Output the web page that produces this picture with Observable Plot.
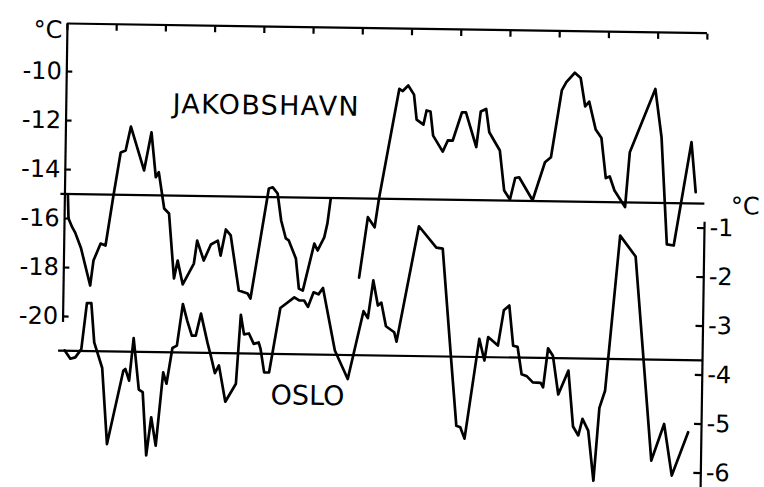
<!DOCTYPE html>
<html><head><meta charset="utf-8">
<script src="https://cdn.jsdelivr.net/npm/d3@7"></script>
<script src="https://cdn.jsdelivr.net/npm/@observablehq/plot@0.6"></script>
<style>html,body{margin:0;padding:0;background:#fff;} svg{display:block}</style>
</head><body><div id="chart"></div>
<script>
// Jakobshavn (left axis, °C) – two segments with a gap
const jakYears1 = [1870.3,1870.4,1870.8,1871.1,1871.7,1872.7,1873.0,1873.7,1874.2,1874.9,1875.6,1876.1,1876.6,1878.0,1878.7,1879.2,1879.5,1880.1,1880.6,1881.2,1881.55,1882.1,1883.2,1883.5,1884.2,1884.9,1885.6,1885.9,1886.4,1886.9,1887.8,1888.7,1889.0,1890.7,1891.1,1891.6,1892.0,1892.5,1892.8,1893.55,1893.9,1894.3,1895.4,1895.75,1896.4,1896.7,1897.0];
const jakTemps1 = [-15.02,-16.0,-16.36,-16.57,-17.18,-18.72,-17.70,-17.0,-17.08,-15.11,-13.27,-13.19,-12.21,-13.99,-12.43,-14.26,-14.05,-15.53,-15.73,-18.38,-17.65,-18.62,-17.76,-16.82,-17.63,-16.97,-16.81,-17.42,-16.35,-16.59,-18.83,-18.95,-19.15,-14.65,-14.60,-14.85,-15.95,-16.68,-16.76,-17.49,-18.72,-18.80,-16.87,-17.15,-16.61,-16.04,-15.02];
const jakYears2 = [1900.0,1900.8,1901.5,1901.9,1903.8,1904.15,1904.7,1905.3,1905.6,1906.3,1906.6,1907.0,1907.3,1908.3,1908.8,1909.3,1910.2,1910.6,1911.7,1912.1,1912.65,1913.0,1914.1,1914.6,1915.2,1915.7,1916.1,1917.5,1918.7,1919.3,1920.3,1920.75,1921.6,1922.2,1922.7,1923.1,1923.8,1924.4,1924.9,1925.3,1925.8,1926.9,1927.3,1929.8,1930.5,1931.2,1931.9,1933.55,1934.05];
const jakTemps2 = [-18.23,-15.76,-16.17,-14.99,-10.50,-10.59,-10.36,-10.73,-11.75,-11.95,-11.37,-11.41,-12.39,-13.04,-12.58,-12.58,-11.42,-11.42,-12.83,-11.38,-11.27,-12.22,-12.96,-14.59,-14.95,-14.07,-14.04,-14.97,-13.41,-13.20,-10.47,-10.13,-9.74,-9.95,-11.11,-10.91,-12.04,-12.39,-14.02,-13.95,-14.52,-15.19,-12.95,-10.35,-12.32,-16.69,-16.73,-12.50,-14.54];
// Oslo (right axis, °C)
const osloYears = [1870.2,1870.8,1871.3,1871.9,1872.4,1872.85,1873.2,1874.05,1874.65,1876.2,1876.4,1876.8,1877.2,1877.8,1878.2,1878.65,1879.1,1879.6,1880.25,1880.6,1881.15,1881.6,1882.15,1882.6,1883.1,1883.5,1884.0,1884.7,1885.05,1885.5,1885.9,1886.6,1887.65,1888.05,1888.4,1888.9,1889.4,1889.9,1890.1,1890.5,1891.0,1892.05,1893.45,1893.95,1894.45,1894.85,1895.4,1895.9,1896.35,1897.65,1899.0,1900.5,1900.95,1901.45,1901.95,1902.3,1902.8,1903.65,1903.9,1906.0,1907.8,1908.45,1909.45,1910.1,1910.5,1910.95,1912.3,1912.85,1913.2,1914.2,1914.75,1915.3,1915.75,1916.2,1916.65,1917.2,1917.8,1918.6,1918.85,1919.3,1919.8,1920.4,1921.4,1921.95,1922.5,1922.9,1923.5,1924.1,1924.6,1925.15,1926.45,1928.05,1929.95,1931.2,1932.05,1933.65];
const osloTemps = [-3.69,-3.86,-3.83,-3.66,-2.72,-2.72,-3.52,-4.04,-5.59,-4.09,-4.05,-4.29,-3.42,-4.47,-4.52,-5.81,-5.03,-5.61,-4.11,-4.34,-3.61,-3.56,-2.71,-3.04,-3.35,-3.35,-2.90,-3.49,-3.75,-4.11,-3.95,-4.69,-4.32,-2.91,-3.31,-3.29,-3.50,-3.47,-3.60,-4.08,-4.08,-2.76,-2.54,-2.60,-2.60,-2.73,-2.43,-2.47,-2.34,-3.61,-4.19,-2.80,-2.94,-2.17,-2.68,-2.62,-3.10,-3.22,-3.41,-1.05,-1.48,-1.50,-3.71,-5.11,-5.14,-5.37,-3.33,-3.77,-3.29,-3.46,-2.74,-2.64,-3.46,-3.48,-4.04,-4.08,-4.20,-4.21,-4.30,-3.50,-3.65,-4.44,-3.95,-5.09,-5.27,-4.93,-5.17,-6.19,-4.70,-4.35,-1.18,-1.60,-5.76,-5.01,-6.06,-5.17];
const jakMean = -15.0;
const osloMean = -3.7;
const xTicks = [1870,1875,1880,1885,1890,1895,1900,1905,1910,1915,1920,1925,1930,1935];
const leftTicks = [-10,-12,-14,-16,-18,-20];
const rightTicks = [-1,-2,-3,-4,-5,-6];

// Oslo °C drawn on the Jakobshavn scale: Oslo -1 aligns with -16, one Oslo degree = two Jakobshavn degrees
const toLeft = o => 2 * o - 14;
const fromLeft = v => (v + 14) / 2;

const jak1 = jakYears1.map((year, i) => ({year, temp: jakTemps1[i]}));
const jak2 = jakYears2.map((year, i) => ({year, temp: jakTemps2[i]}));
const oslo = osloYears.map((year, i) => ({year, temp: osloTemps[i]}));

const yTop = -8.04, yBottom = -26.98;
const sw = 2.2;
const lw = 2.7;

const chart = Plot.plot({
  width: 764, height: 487,
  marginTop: 23, marginBottom: 0, marginLeft: 67, marginRight: 57,
  x: {domain: [1870, 1935], axis: null},
  y: {domain: [yBottom, yTop], axis: null},
  style: {fontFamily: "DejaVu Sans", fontSize: "24px", color: "black", background: "white"},
  marks: [
    // frame pieces
    Plot.ruleY([yTop], {strokeWidth: sw}),
    Plot.ruleX([1870], {y1: yTop, y2: -20.25, strokeWidth: sw}),
    Plot.ruleX([1935], {y1: toLeft(-0.88), y2: yBottom, strokeWidth: sw}),
    // inward ticks
    Plot.axisX(xTicks, {anchor: "top", tickSize: 6, dy: 6, tickFormat: () => "", label: null, strokeWidth: sw}),
    Plot.axisY(leftTicks, {anchor: "left", tickSize: 6, dx: 6, tickFormat: () => "", label: null, strokeWidth: sw}),
    Plot.axisY(rightTicks.map(toLeft), {anchor: "right", tickSize: 8, dx: -8, tickFormat: () => "", label: null, strokeWidth: sw}),
    // tick labels
    Plot.axisY(leftTicks, {anchor: "left", tickSize: 0, tickPadding: 5, tickFormat: d => String(d), label: null}),
    Plot.axisY(rightTicks.map(toLeft), {anchor: "right", tickSize: 0, tickPadding: 5, tickFormat: d => String(fromLeft(d)), label: null}),
    Plot.text(["°C"], {frameAnchor: "top-left", dx: -5, dy: 7, textAnchor: "end", lineAnchor: "middle"}),
    Plot.text(["°C"], {x: 1935, y: toLeft(-0.55), dx: 26, textAnchor: "start", lineAnchor: "middle"}),
    // mean lines
    Plot.ruleY([jakMean], {strokeWidth: sw, insetLeft: -4}),
    Plot.ruleY([toLeft(osloMean)], {strokeWidth: sw, insetLeft: -4}),
    // series
    Plot.line(jak1, {x: "year", y: "temp", stroke: "black", strokeWidth: lw, strokeLinejoin: "round"}),
    Plot.line(jak2, {x: "year", y: "temp", stroke: "black", strokeWidth: lw, strokeLinejoin: "round"}),
    Plot.line(oslo, {x: "year", y: d => toLeft(d.temp), stroke: "black", strokeWidth: lw, strokeLinejoin: "round"}),
    // series labels
    Plot.text(["JAKOBSHAVN"], {x: 1880.8, y: -11.28, text: d => d, textAnchor: "start", lineAnchor: "middle", fontSize: 27}),
    Plot.text(["OSLO"], {x: 1891.2, y: toLeft(-4.55), text: d => d, textAnchor: "start", lineAnchor: "middle", fontSize: 27})
  ]
});
d3.select(chart).selectAll("text").filter(function() { return this.textContent === "JAKOBSHAVN"; })
  .attr("letter-spacing", "1.3px");
chart.style.transformOrigin = "67px 23px";
chart.style.transform = "rotate(0.86deg)";
document.getElementById("chart").appendChild(chart);
</script>
</body></html>
